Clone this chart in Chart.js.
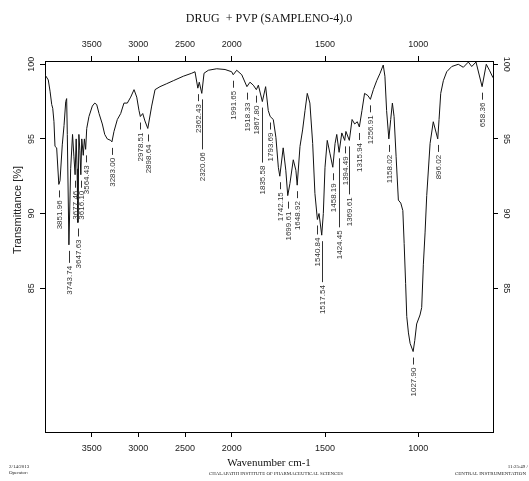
<!DOCTYPE html>
<html>
<head>
<meta charset="utf-8">
<script src="https://cdn.jsdelivr.net/npm/chart.js@4/dist/chart.umd.min.js"></script>
<style>
html, body { margin: 0; padding: 0; background: #fff; }
#wrap { width: 529px; height: 481px; }
</style>
</head>
<body>
<div id="wrap"><canvas id="ir"></canvas></div>
<script>
// spectrum (wavenumber cm-1 / transmittance %)
var wavenumbers = [4000, 3965, 3946, 3928, 3917, 3904, 3893, 3875, 3851.96, 3839, 3815, 3796, 3778, 3768, 3761,
    3743.74, 3725, 3705, 3690, 3677.46, 3666, 3656, 3647.63, 3637, 3626, 3616.10, 3606, 3590, 3578, 3564.43, 3553,
    3529, 3493, 3467, 3446, 3421, 3386, 3360, 3333, 3296, 3283.00, 3261, 3225, 3189, 3154, 3118, 3082, 3046, 3017,
    2993, 2978.51, 2953, 2929, 2898.64, 2857, 2821, 2768, 2696, 2625, 2518, 2428, 2393, 2362.43, 2347, 2320.06,
    2296, 2250, 2160, 2071, 2000, 1991.65, 1973, 1946, 1918.33, 1902, 1884, 1867.80, 1857, 1835.58, 1818, 1804,
    1793.69, 1777, 1763, 1750, 1742.15, 1724, 1710, 1699.61, 1688, 1670, 1656, 1648.92, 1634, 1620, 1607, 1595,
    1581, 1566, 1554, 1540.84, 1532, 1517.54, 1509, 1500, 1488, 1473, 1458.19, 1446, 1437, 1424.45, 1410, 1394.49,
    1388, 1369.61, 1355, 1341, 1327, 1315.94, 1302, 1288, 1270, 1256.91, 1241, 1223, 1205, 1188, 1179, 1170,
    1158.02, 1148, 1139, 1130, 1119, 1107, 1094, 1083, 1076, 1068, 1062, 1053, 1044, 1027.90, 1019, 1009, 991,
    982, 973, 964, 955, 937, 920, 896.02, 889, 880, 866, 848, 821, 786, 759, 732, 714, 691, 658.36, 636, 619, 600];
var transmittance = [99.3, 98.95, 98.2, 97.3, 97.05, 96.15, 94.5, 94.4, 91.95, 92.2, 94.6, 95.9, 97.5, 97.7, 95.3,
    87.9, 93.0, 95.3, 93.8, 92.6, 95.0, 93.0, 89.4, 95.3, 94.2, 92.6, 95.0, 93.9, 95.0, 94.3, 95.7,
    96.5, 97.2, 97.4, 97.3, 96.7, 96.0, 95.3, 95.0, 94.9, 94.8, 95.5, 96.3, 96.7, 97.4, 97.4, 97.8, 98.3, 97.8,
    96.9, 96.5, 96.7, 96.2, 95.7, 97.2, 98.3, 98.5, 98.7, 98.9, 99.2, 99.4, 99.5, 98.4, 98.8, 98.05,
    99.4, 99.6, 99.7, 99.65, 99.5, 99.3, 99.6, 99.3, 98.5, 98.8, 98.6, 98.3, 98.6, 97.5, 98.5, 96.9,
    96.5, 96.3, 95.1, 93.1, 92.5, 94.4, 92.9, 91.2, 92.0, 93.6, 92.9, 91.9, 94.5, 95.6, 96.9, 98.05,
    97.4, 94.7, 91.35, 89.6, 90.0, 88.55, 90.0, 93.1, 94.9, 94.0, 93.1, 94.7, 95.3, 94.1, 95.4, 94.9,
    95.5, 94.9, 96.3, 96.0, 96.15, 95.8, 96.9, 98.05, 97.9, 97.65, 98.3, 98.9, 99.4, 99.95, 99.2, 96.9,
    95.0, 96.3, 97.4, 96.5, 93.8, 90.9, 90.7, 90.2, 88.0, 85.3, 83.1, 82.0, 81.3, 80.75, 81.5, 82.6, 83.2,
    83.7, 86.6, 88.7, 91.2, 94.7, 96.15, 95.0, 96.3, 98.05, 98.9, 99.5, 99.85, 100.0, 99.8, 100.15, 99.85, 100.15, 98.5, 100.0, 99.6, 99.1];

// picked peaks printed under the trace
var peakWavenumbers = [3851.96, 3743.74, 3677.46, 3647.63, 3616.10, 3564.43, 3283.00, 2978.51, 2898.64, 2362.43,
    2320.06, 1991.65, 1918.33, 1867.80, 1835.58, 1793.69, 1742.15, 1699.61, 1648.92, 1540.84, 1517.54, 1458.19,
    1424.45, 1394.49, 1369.61, 1315.94, 1256.91, 1158.02, 1027.90, 896.02, 658.36];

var xTickValues = [3500, 3000, 2500, 2000, 1500, 1000];
var yTickValues = [85, 90, 95, 100];

// leader length under each peak label (px)
var leader = [7, 12, 7, 8, 7, 7, 7, 7, 7, 7, 50, 7, 7, 7, 55, 7, 7, 7, 7, 9, 41, 7, 69, 7, 48, 7, 7, 7, 7, 7, 7];

// OPUS style axis: below 2000 cm-1 the scale is stretched x2
function toAxis(w) { return w >= 2000 ? w - 2000 : (w - 2000) * 2; }
function fromAxis(u) { return u >= 0 ? u + 2000 : 2000 + u / 2; }

var points = [];
for (var i = 0; i < wavenumbers.length; i++) {
    points.push({x: toAxis(wavenumbers[i]), y: transmittance[i]});
}

var sans = '"Liberation Sans", Arial, sans-serif';
var serif = '"Liberation Serif", "Times New Roman", serif';

function xAxis(pos, title, pad, h) {
    return {
        type: 'linear',
        position: pos,
        min: toAxis(600),
        max: toAxis(4000),
        reverse: true,
        afterBuildTicks: function (s) {
            s.ticks = xTickValues.map(function (w) { return {value: toAxis(w)}; });
        },
        afterFit: function (s) { s.height = h; },
        ticks: {
            autoSkip: false, maxRotation: 0, padding: 6, color: '#222',
            font: {family: sans, size: 9},
            callback: function (v) { return Math.round(fromAxis(v)); }
        },
        grid: {drawOnChartArea: false, drawTicks: true, tickLength: 5, color: '#000'},
        border: {display: true, color: '#000', width: 1},
        title: {display: true, text: title, color: '#111', font: {family: serif, size: pos === 'top' ? 12 : 11}, padding: pad}
    };
}

function yAxis(pos, w) {
    return {
        type: 'linear',
        position: pos,
        min: 75.36,
        max: 100.22,
        afterBuildTicks: function (s) {
            s.ticks = yTickValues.map(function (v) { return {value: v}; });
        },
        afterFit: function (s) { s.width = w; },
        ticks: {display: false},
        grid: {drawOnChartArea: false, drawTicks: true, tickLength: 5, color: '#000'},
        border: {display: true, color: '#000', width: 1}
    };
}

var peakLabels = {
    id: 'peakLabels',
    afterDatasetsDraw: function (chart) {
        var ctx = chart.ctx;
        var meta = chart.getDatasetMeta(0);
        ctx.save();
        ctx.font = '8px ' + sans;
        ctx.fillStyle = '#333';
        ctx.strokeStyle = '#333';
        ctx.lineWidth = 1;
        for (var k = 0; k < peakWavenumbers.length; k++) {
            var pt = meta.data[wavenumbers.indexOf(peakWavenumbers[k])];
            var x = Math.round(pt.x) + 0.5;
            var y0 = pt.y + 6;
            ctx.beginPath();
            ctx.moveTo(x, y0);
            ctx.lineTo(x, y0 + leader[k]);
            ctx.stroke();
            ctx.save();
            ctx.translate(x, y0 + leader[k] + 3);
            ctx.rotate(-Math.PI / 2);
            ctx.textAlign = 'right';
            ctx.textBaseline = 'middle';
            ctx.fillText(peakWavenumbers[k].toFixed(2), 0, 0);
            ctx.restore();
        }
        ctx.restore();
    }
};

var sideText = {
    id: 'sideText',
    afterDraw: function (chart) {
        var ctx = chart.ctx;
        ctx.save();
        ctx.fillStyle = '#222';
        ctx.textAlign = 'center';
        ctx.textBaseline = 'middle';
        ctx.font = '9px ' + sans;
        // y tick labels, rotated like the print
        [['y', -1, 32], ['y2', 1, 506.5]].forEach(function (a) {
            var s = chart.scales[a[0]];
            s.ticks.forEach(function (t) {
                ctx.save();
                ctx.translate(a[2], s.getPixelForValue(t.value));
                ctx.rotate(a[1] * Math.PI / 2);
                ctx.fillText(String(t.value), 0, 0);
                ctx.restore();
            });
        });
        // y title
        ctx.save();
        ctx.font = '11px ' + sans;
        ctx.translate(18, 210);
        ctx.rotate(-Math.PI / 2);
        ctx.fillText('Transmittance [%]', 0, 0);
        ctx.restore();
        // footer
        ctx.font = '5px ' + serif;
        ctx.textAlign = 'left';
        ctx.fillText('2/14/2013', 9, 467);
        ctx.fillText('Operator:', 9, 473);
        ctx.textAlign = 'center';
        ctx.fillText('CHALAPATHI INSTITUTE OF PHARMACEUTICAL SCIENCES', 276, 474, 134);
        ctx.textAlign = 'right';
        ctx.fillText('11:25:49 /', 528, 467);
        ctx.fillText('CENTRAL INSTRUMENTATION', 526, 474, 80);
        ctx.restore();
    }
};

var chart = new Chart(document.getElementById('ir'), {
    type: 'line',
    data: {
        datasets: [{
            data: points,
            xAxisID: 'x',
            yAxisID: 'y',
            borderColor: '#111',
            borderWidth: 1,
            pointRadius: 0,
            tension: 0,
            fill: false
        }]
    },
    options: {
        responsive: true,
        maintainAspectRatio: false,
        animation: false,
        devicePixelRatio: 1,
        layout: {padding: 0},
        plugins: {legend: {display: false}, tooltip: {enabled: false}},
        scales: {
            x: xAxis('bottom', 'Wavenumber cm-1', {top: 0, bottom: 11}, 49),
            x2: xAxis('top', 'DRUG  + PVP (SAMPLENO-4).0', {top: 12, bottom: 0}, 61),
            y: yAxis('left', 45),
            y2: yAxis('right', 36)
        }
    },
    plugins: [peakLabels, sideText]
});
</script>
</body>
</html>
